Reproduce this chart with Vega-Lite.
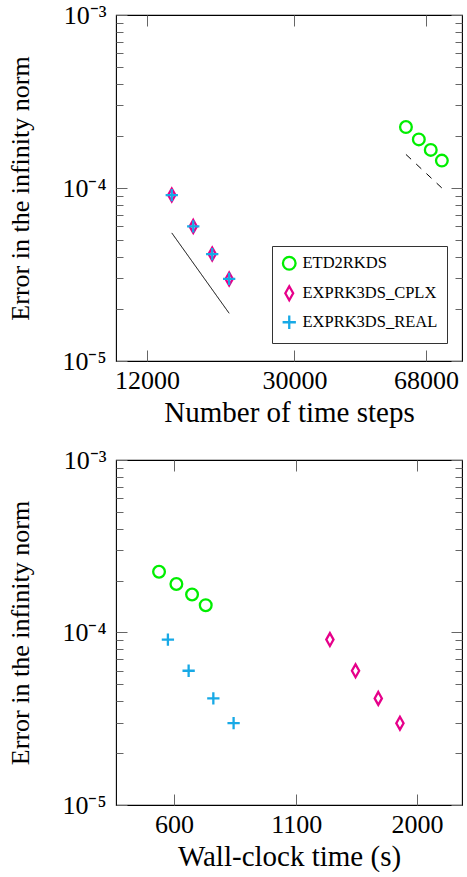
{
  "$schema": "https://vega.github.io/schema/vega-lite/v6.json",
  "background": "white",
  "padding": {"top": 1, "left": 7, "right": 0, "bottom": 0},
  "datasets": {
    "pts": [
      {"method": "ETD2RKDS", "steps": 60000, "time": 557, "err": 0.000225},
      {"method": "ETD2RKDS", "steps": 65000, "time": 607, "err": 0.000191},
      {"method": "ETD2RKDS", "steps": 70000, "time": 656, "err": 0.000166},
      {"method": "ETD2RKDS", "steps": 75000, "time": 702, "err": 0.000144},
      {"method": "EXPRK3DS_CPLX", "steps": 14000, "time": 1299, "err": 0.000091},
      {"method": "EXPRK3DS_CPLX", "steps": 16000, "time": 1475, "err": 0.00006},
      {"method": "EXPRK3DS_CPLX", "steps": 18000, "time": 1651, "err": 0.0000415},
      {"method": "EXPRK3DS_CPLX", "steps": 20000, "time": 1838, "err": 0.0000298},
      {"method": "EXPRK3DS_REAL", "steps": 14000, "time": 582, "err": 0.000091},
      {"method": "EXPRK3DS_REAL", "steps": 16000, "time": 645, "err": 0.00006},
      {"method": "EXPRK3DS_REAL", "steps": 18000, "time": 729, "err": 0.0000415},
      {"method": "EXPRK3DS_REAL", "steps": 20000, "time": 806, "err": 0.0000298}
    ],
    "refs": [
      {"ref": "order3", "steps": 14000, "err": 0.000055},
      {"ref": "order3", "steps": 20000, "err": 0.00001887},
      {"ref": "order2", "steps": 60000, "err": 0.0001563},
      {"ref": "order2", "steps": 75000, "err": 0.0001}
    ]
  },
  "config": {
    "view": {"stroke": "#000", "strokeWidth": 1.1},
    "axis": {
      "labelFont": "Liberation Serif",
      "labelFontSize": 26,
      "labelColor": "#000",
      "titleFont": "Liberation Serif",
      "titleFontSize": 26,
      "titleFontWeight": "normal",
      "titleColor": "#000",
      "tickColor": "#666",
      "tickWidth": 1,
      "domain": false,
      "grid": false,
      "labelOverlap": false,
      "labelFlush": false
    },
    "legend": {
      "labelFont": "Liberation Serif",
      "labelFontSize": 16.5,
      "labelColor": "#000"
    }
  },
  "vconcat": [
    {
      "width": 346,
      "height": 346,
      "layer": [
        {
          "data": {"name": "refs"},
          "mark": {"type": "line", "color": "#000", "strokeWidth": 1},
          "encoding": {
            "x": {"field": "steps", "type": "quantitative", "scale": {"type": "log", "domain": [9900, 85000], "nice": false},
                  "axis": {"orient": "top", "values": [12000, 30000, 68000], "labels": false, "title": null, "tickSize": -11}},
            "y": {"field": "err", "type": "quantitative", "scale": {"type": "log", "domain": [0.00001, 0.001], "nice": false},
                  "axis": {"orient": "right", "values": [0.00001, 0.0001, 0.001], "labels": false, "title": null, "tickSize": -11}},
            "detail": {"field": "ref"},
            "strokeDash": {"field": "ref", "type": "nominal", "scale": {"domain": ["order2", "order3"], "range": [[7, 7], [1, 0]]}, "legend": null}
          }
        },
        {
          "data": {"name": "pts"},
          "mark": {"type": "point", "opacity": 0},
          "encoding": {
            "x": {"field": "steps", "type": "quantitative", "scale": {"type": "log", "domain": [9900, 85000], "nice": false}, "axis": null},
            "y": {"field": "err", "type": "quantitative", "scale": {"type": "log", "domain": [0.00001, 0.001], "nice": false},
                  "axis": {"orient": "left", "values": [0.00002, 0.00003, 0.00004, 0.00005, 0.00006, 0.00007, 0.00008, 0.00009, 0.0002, 0.0003, 0.0004, 0.0005, 0.0006, 0.0007, 0.0008, 0.0009], "labels": false, "title": null, "tickSize": -7}}
          }
        },
        {
          "data": {"name": "pts"},
          "mark": {"type": "point", "opacity": 0},
          "encoding": {
            "x": {"field": "steps", "type": "quantitative", "scale": {"type": "log", "domain": [9900, 85000], "nice": false}, "axis": null},
            "y": {"field": "err", "type": "quantitative", "scale": {"type": "log", "domain": [0.00001, 0.001], "nice": false},
                  "axis": {"orient": "right", "values": [0.00002, 0.00003, 0.00004, 0.00005, 0.00006, 0.00007, 0.00008, 0.00009, 0.0002, 0.0003, 0.0004, 0.0005, 0.0006, 0.0007, 0.0008, 0.0009], "labels": false, "title": null, "tickSize": -7}}
          }
        },
        {
          "data": {"name": "pts"},
          "mark": {"type": "point", "filled": false, "strokeWidth": 2.3, "size": 137, "opacity": 1},
          "encoding": {
            "x": {"field": "steps", "type": "quantitative", "scale": {"type": "log", "domain": [9900, 85000], "nice": false},
                  "axis": {"orient": "bottom", "values": [12000, 30000, 68000], "format": "d", "title": "Number of time steps", "titleFontSize": 29, "tickSize": -11, "labelPadding": 17, "titlePadding": 5}},
            "y": {"field": "err", "type": "quantitative", "scale": {"type": "log", "domain": [0.00001, 0.001], "nice": false},
                  "axis": {"orient": "left", "values": [0.00001, 0.0001, 0.001], "labelExpr": "datum.value > 0.0009 ? '10⁻³' : datum.value > 0.00009 ? '10⁻⁴' : '10⁻⁵'", "title": "Error in the infinity norm", "tickSize": -11, "labelPadding": 21, "titlePadding": 28}},
            "color": {"field": "method", "type": "nominal",
                      "scale": {"domain": ["ETD2RKDS", "EXPRK3DS_CPLX", "EXPRK3DS_REAL"], "range": ["#00ee00", "#e6008a", "#17a9e6"]},
                      "legend": {"orient": "none", "legendX": 156, "legendY": 231, "title": null, "padding": 9, "strokeColor": "#333", "fillColor": "#fff", "symbolStrokeWidth": 2.3, "symbolSize": 160, "rowPadding": 6, "labelOffset": 5}},
            "shape": {"field": "method", "type": "nominal",
                      "scale": {"domain": ["ETD2RKDS", "EXPRK3DS_CPLX", "EXPRK3DS_REAL"], "range": ["circle", "M0,-1.1L0.62,0L0,1.1L-0.62,0Z", "M-1.05,0L1.05,0M0,-1.05L0,1.05"]}}
          }
        }
      ],
      "resolve": {"axis": {"x": "independent", "y": "independent"}}
    },
    {
      "width": 346,
      "height": 345,
      "layer": [
        {
          "data": {"name": "pts"},
          "mark": {"type": "point", "opacity": 0},
          "encoding": {
            "x": {"field": "time", "type": "quantitative", "scale": {"type": "log", "domain": [450, 2500], "nice": false},
                  "axis": {"orient": "top", "values": [600, 1100, 2000], "labels": false, "title": null, "tickSize": -11}},
            "y": {"field": "err", "type": "quantitative", "scale": {"type": "log", "domain": [0.00001, 0.001], "nice": false},
                  "axis": {"orient": "right", "values": [0.00001, 0.0001, 0.001], "labels": false, "title": null, "tickSize": -11}}
          }
        },
        {
          "data": {"name": "pts"},
          "mark": {"type": "point", "opacity": 0},
          "encoding": {
            "x": {"field": "time", "type": "quantitative", "scale": {"type": "log", "domain": [450, 2500], "nice": false}, "axis": null},
            "y": {"field": "err", "type": "quantitative", "scale": {"type": "log", "domain": [0.00001, 0.001], "nice": false},
                  "axis": {"orient": "left", "values": [0.00002, 0.00003, 0.00004, 0.00005, 0.00006, 0.00007, 0.00008, 0.00009, 0.0002, 0.0003, 0.0004, 0.0005, 0.0006, 0.0007, 0.0008, 0.0009], "labels": false, "title": null, "tickSize": -7}}
          }
        },
        {
          "data": {"name": "pts"},
          "mark": {"type": "point", "opacity": 0},
          "encoding": {
            "x": {"field": "time", "type": "quantitative", "scale": {"type": "log", "domain": [450, 2500], "nice": false}, "axis": null},
            "y": {"field": "err", "type": "quantitative", "scale": {"type": "log", "domain": [0.00001, 0.001], "nice": false},
                  "axis": {"orient": "right", "values": [0.00002, 0.00003, 0.00004, 0.00005, 0.00006, 0.00007, 0.00008, 0.00009, 0.0002, 0.0003, 0.0004, 0.0005, 0.0006, 0.0007, 0.0008, 0.0009], "labels": false, "title": null, "tickSize": -7}}
          }
        },
        {
          "data": {"name": "pts"},
          "mark": {"type": "point", "filled": false, "strokeWidth": 2.3, "size": 137, "opacity": 1},
          "encoding": {
            "x": {"field": "time", "type": "quantitative", "scale": {"type": "log", "domain": [450, 2500], "nice": false},
                  "axis": {"orient": "bottom", "values": [600, 1100, 2000], "format": "d", "title": "Wall-clock time (s)", "titleFontSize": 29, "tickSize": -11, "labelPadding": 17, "titlePadding": 5}},
            "y": {"field": "err", "type": "quantitative", "scale": {"type": "log", "domain": [0.00001, 0.001], "nice": false},
                  "axis": {"orient": "left", "values": [0.00001, 0.0001, 0.001], "labelExpr": "datum.value > 0.0009 ? '10⁻³' : datum.value > 0.00009 ? '10⁻⁴' : '10⁻⁵'", "title": "Error in the infinity norm", "tickSize": -11, "labelPadding": 21, "titlePadding": 28}},
            "color": {"field": "method", "type": "nominal",
                      "scale": {"domain": ["ETD2RKDS", "EXPRK3DS_CPLX", "EXPRK3DS_REAL"], "range": ["#00ee00", "#e6008a", "#17a9e6"]},
                      "legend": null},
            "shape": {"field": "method", "type": "nominal",
                      "scale": {"domain": ["ETD2RKDS", "EXPRK3DS_CPLX", "EXPRK3DS_REAL"], "range": ["circle", "M0,-1.1L0.62,0L0,1.1L-0.62,0Z", "M-1.05,0L1.05,0M0,-1.05L0,1.05"]},
                      "legend": null}
          }
        }
      ],
      "resolve": {"axis": {"x": "independent", "y": "independent"}}
    }
  ],
  "spacing": 18,
  "resolve": {"legend": {"color": "independent", "shape": "independent"}}
}
